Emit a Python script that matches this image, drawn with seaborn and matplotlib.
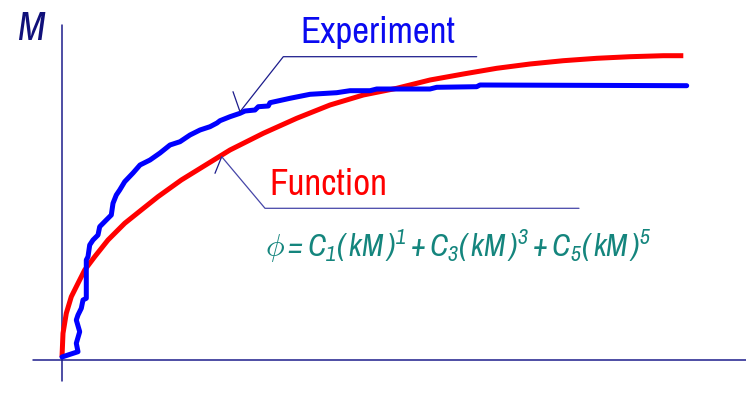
import matplotlib
matplotlib.use("Agg")
import matplotlib.pyplot as plt
from matplotlib import font_manager
import pandas as pd
import seaborn as sns

# Experimental moment-curvature record (curvature, moment)
exp_curvature = [0, 6, 16, 14.3, 17.7, 14.3, 16, 19.3, 21, 24.3, 24.3, 26, 27.7, 31,
                 36, 37.7, 44.3, 49.3, 51, 54.3, 57.7, 62.7, 71, 78, 88, 98, 108,
                 118, 128, 138, 148, 155, 158, 168, 178, 183, 193, 196.3, 206.3, 208,
                 228, 248, 274.7, 288, 308, 314.7, 368, 374.7, 414.7, 418, 624.7]
exp_moment = [3, 5, 8.3, 16.7, 28.3, 40, 45, 51.7, 60, 61.7, 100, 103.3, 115, 120,
              125, 133.3, 140, 145, 156.7, 165, 170, 178.3, 187, 195, 200, 207, 215,
              218.3, 225, 230, 233.3, 237, 239.3, 243.3, 246.7, 249, 250, 253.3, 254,
              257.3, 261.7, 265.7, 267.3, 269.3, 269.3, 271, 271, 272.7, 273.3, 275,
              274.3]

# Fitted polynomial function (curvature, moment)
fit_curvature = [0, 1, 4.3, 9.3, 16, 22.7, 32.7, 46, 62.7, 79.3, 96, 119.3, 168,
                 201.3, 234.7, 268, 301.3, 334.7, 368, 401.3, 434.7, 468, 501.3,
                 534.7, 568, 601.3, 621.3]
fit_moment = [3, 26.7, 46.7, 63.3, 76.7, 90, 103.3, 120, 136.7, 150, 163.3, 180, 210,
              226.7, 241.7, 255, 265, 271.7, 280, 286, 291.7, 296, 299.3, 301.7,
              303.3, 304.3, 304.3]

label_exp = "Experiment"
label_fit = "Function"
axis_label = "M"
formula = r"$\phi = C_1(\,kM\,)^1 + C_3(\,kM\,)^3 + C_5(\,kM\,)^5$"

sns.set_theme(style="white")
installed = {f.name for f in font_manager.fontManager.ttflist}
narrow = next((n for n in ("Archivo Narrow", "Liberation Sans Narrow", "Liberation Sans")
               if n in installed), "DejaVu Sans")
plt.rcParams["font.family"] = [narrow, "DejaVu Sans"]
plt.rcParams["mathtext.fontset"] = "custom"
plt.rcParams["mathtext.rm"] = f"{narrow}:italic"
plt.rcParams["mathtext.it"] = f"{narrow}:italic"
plt.rcParams["mathtext.bf"] = f"{narrow}:italic"

fig = plt.figure(figsize=(7.46, 4.08), dpi=100)
ax = fig.add_axes([0, 0, 1, 1])
ax.set_xlim(-62, 684)
ax.set_ylim(-48, 360)
ax.set_axis_off()

axis_color = "#1c1c8c"
ax.plot([-29, 684], [0, 0], color=axis_color, lw=1.1)
ax.plot([-0.5, -0.5], [-21, 335], color=axis_color, lw=1.1)

df_exp = pd.DataFrame({"curvature": exp_curvature, "moment": exp_moment})
df_fit = pd.DataFrame({"curvature": fit_curvature, "moment": fit_moment})

sns.lineplot(data=df_fit, x="curvature", y="moment", sort=False, estimator=None,
             color="#ff0000", lw=3.6, ax=ax, solid_capstyle="butt",
             solid_joinstyle="round")
sns.lineplot(data=df_exp, x="curvature", y="moment", sort=False, estimator=None,
             color="#0000ff", lw=3.6, ax=ax, solid_capstyle="round",
             solid_joinstyle="round")

# leader lines
lead_color = "#1c1c8c"
ax.plot([171, 178], [268.3, 248.3], color=lead_color, lw=0.9)
ax.plot([178, 221.3, 414.7], [248.3, 303.3, 303.3], color=lead_color, lw=0.9)
ax.plot([153, 159.7], [186.7, 203.3], color=lead_color, lw=0.9)
ax.plot([159.7, 203, 517], [203.3, 151.7, 151.7], color="#4646a8", lw=0.9)

ax.text(-31, 320, axis_label, style="italic", fontsize=29, color="#10107a",
        ha="center", va="baseline")
ax.text(238, 317, label_exp, fontsize=26.5, color="#0a0af0", ha="left", va="baseline")
ax.text(207, 165, label_fit, fontsize=26.5, color="#ff0000", ha="left", va="baseline")
ax.text(203, 103, formula, fontsize=22.5, color="#14857d", ha="left", va="baseline")

fig.savefig("out.png", dpi=100)
